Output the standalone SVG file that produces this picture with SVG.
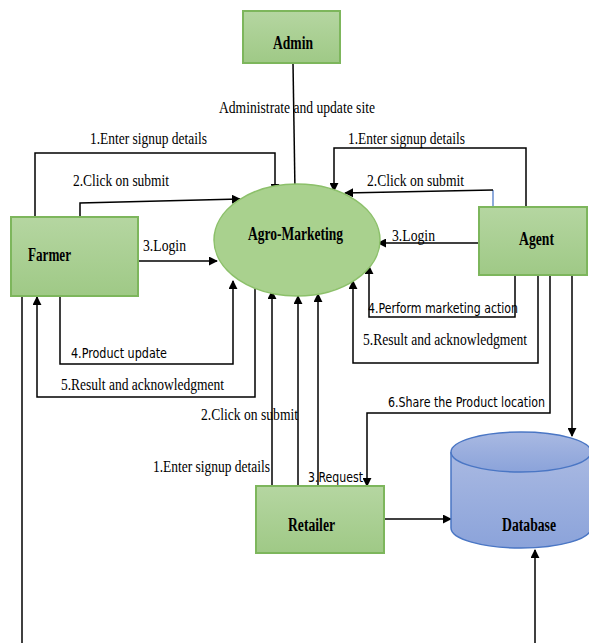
<svg xmlns="http://www.w3.org/2000/svg" width="589" height="643" viewBox="0 0 589 643">
<defs>
<linearGradient id="gg" x1="0" y1="0" x2="0" y2="1"><stop offset="0" stop-color="#b5d6a1"/><stop offset="1" stop-color="#9fc986"/></linearGradient>
<linearGradient id="bg" x1="0" y1="0" x2="0" y2="1"><stop offset="0" stop-color="#a9b9e2"/><stop offset="1" stop-color="#8ba3da"/></linearGradient>
<marker id="ah" viewBox="0 0 10 10" refX="9" refY="5" markerWidth="9" markerHeight="9" markerUnits="userSpaceOnUse" orient="auto"><path d="M0,0 L10,5 L0,10 z" fill="#000"/></marker>
<style>
.box{fill:url(#gg);stroke:#7db65c;stroke-width:2}
.ell{fill:#a9d18e;stroke:#8cc06a;stroke-width:1.5}
.db{fill:url(#bg);stroke:#4a76c4;stroke-width:1.5}
.c{fill:none;stroke:#000;stroke-width:1.5}
.a{marker-end:url(#ah)}
.n{font-family:"Liberation Serif",serif;font-weight:bold;font-size:18px;fill:#000}
.l{font-family:"Liberation Serif",serif;font-size:16px;fill:#000}
.s{font-family:"DejaVu Sans Condensed","DejaVu Sans",sans-serif;font-size:14px;fill:#000}
</style>
</defs>
<rect width="589" height="643" fill="#fff"/>
<g id="connectors">
<path class="c a" d="M293,63 L295,192"/>
<path class="c a" d="M35,217 V153 H275 V192"/>
<path class="c a" d="M80,217 V203 L240,199"/>
<path class="c a" d="M138,261 H217"/>
<path class="c a" d="M60,296 V364 H233 V281"/>
<path class="c a" d="M255,288 V397 H37 V297"/>
<path class="c" d="M22,296 V643"/>
<path class="c a" d="M526,207 V148 H334 V191"/>
<path d="M493,207 V190" fill="none" stroke="#4472c4" stroke-width="1.2"/>
<path class="c a" d="M493,190 L345,193"/>
<path class="c a" d="M479,243 H378"/>
<path class="c a" d="M515,275 V317 H369 V266"/>
<path class="c a" d="M538,275 V363 H353 V281"/>
<path class="c a" d="M550,275 V413 H367 V486"/>
<path class="c a" d="M572,275 V436"/>
<path class="c a" d="M384,519 H451"/>
<path class="c a" d="M535,643 V550"/>
<path class="c a" d="M272,486 V291"/>
<path class="c a" d="M298,486 V296"/>
<path class="c a" d="M318,486 V294"/>
</g>
<g id="labels">
<text class="l" x="219" y="113" textLength="156" lengthAdjust="spacingAndGlyphs">Administrate and update site</text>
<text class="l" x="90" y="144" textLength="117" lengthAdjust="spacingAndGlyphs">1.Enter signup details</text>
<text class="l" x="73" y="186" textLength="96" lengthAdjust="spacingAndGlyphs">2.Click on submit</text>
<text class="l" x="348" y="144" textLength="117" lengthAdjust="spacingAndGlyphs">1.Enter signup details</text>
<text class="l" x="367" y="186" textLength="97" lengthAdjust="spacingAndGlyphs">2.Click on submit</text>
<text class="l" x="143" y="251" textLength="43" lengthAdjust="spacingAndGlyphs">3.Login</text>
<text class="l" x="392" y="241" textLength="43" lengthAdjust="spacingAndGlyphs">3.Login</text>
<text class="s" x="71" y="358" textLength="96" lengthAdjust="spacingAndGlyphs">4.Product update</text>
<text class="l" x="61" y="390" textLength="163" lengthAdjust="spacingAndGlyphs">5.Result and acknowledgment</text>
<text class="s" x="368" y="313" textLength="150" lengthAdjust="spacingAndGlyphs">4.Perform marketing action</text>
<text class="l" x="363" y="345" textLength="164" lengthAdjust="spacingAndGlyphs">5.Result and acknowledgment</text>
<text class="s" x="388" y="407" textLength="157" lengthAdjust="spacingAndGlyphs">6.Share the Product location</text>
<text class="l" x="201" y="420" textLength="97" lengthAdjust="spacingAndGlyphs">2.Click on submit</text>
<text class="l" x="153" y="472" textLength="117" lengthAdjust="spacingAndGlyphs">1.Enter signup details</text>
<text class="s" x="308" y="482" textLength="55" lengthAdjust="spacingAndGlyphs">3.Request</text>
</g>
<g id="admin"><rect class="box" x="243" y="11" width="97" height="52"/><text class="n" x="273" y="49" textLength="40" lengthAdjust="spacingAndGlyphs">Admin</text></g>
<g id="agro-marketing"><ellipse class="ell" cx="297" cy="240" rx="83" ry="56"/><text class="n" x="248" y="240" textLength="95" lengthAdjust="spacingAndGlyphs">Agro-Marketing</text></g>
<g id="farmer"><rect class="box" x="11" y="217" width="127" height="79"/><text class="n" x="28" y="261" textLength="43" lengthAdjust="spacingAndGlyphs">Farmer</text></g>
<g id="agent"><rect class="box" x="479" y="207" width="108" height="68"/><text class="n" x="519" y="245" textLength="35" lengthAdjust="spacingAndGlyphs">Agent</text></g>
<g id="retailer"><rect class="box" x="256" y="486" width="128" height="67"/><text class="n" x="288" y="531" textLength="47" lengthAdjust="spacingAndGlyphs">Retailer</text></g>
<g id="database">
<path class="db" d="M451,452 V528 A70,20 0 0 0 591,528 V452"/>
<ellipse class="db" cx="521" cy="452" rx="70" ry="20"/>
<text class="n" x="502" y="531" textLength="54" lengthAdjust="spacingAndGlyphs">Database</text>
</g>
</svg>
